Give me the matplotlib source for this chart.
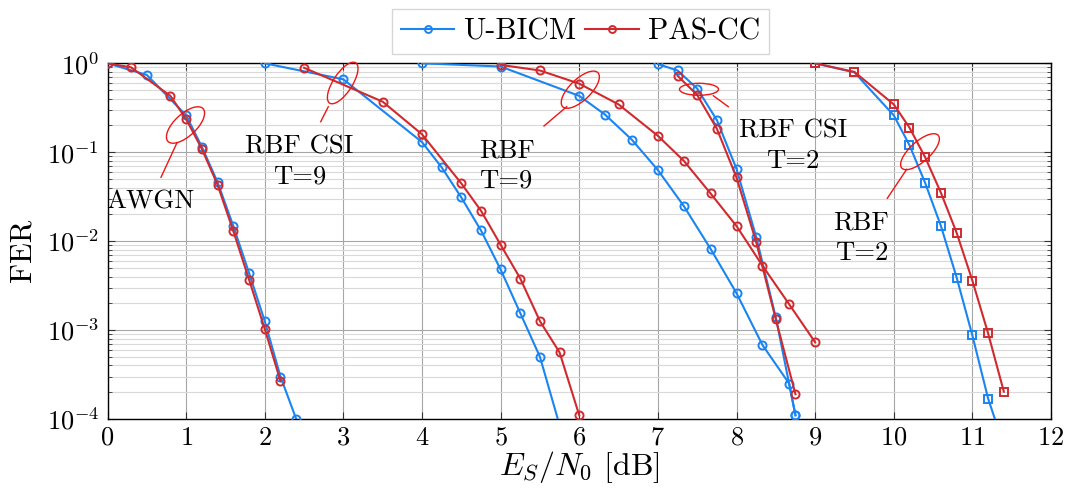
import matplotlib
matplotlib.use('Agg')
import matplotlib.pyplot as plt
from matplotlib.patches import Ellipse
from matplotlib.lines import Line2D
from matplotlib.transforms import IdentityTransform
from matplotlib.ticker import FixedLocator, FixedFormatter, LogLocator, NullFormatter

plt.rcParams['font.family'] = ['cmr10', 'DejaVu Serif']
plt.rcParams['mathtext.fontset'] = 'cm'
plt.rcParams['axes.formatter.use_mathtext'] = True

# ---------------- data ----------------
awgn_x_u = [0, 0.5, 1.0, 1.2, 1.4, 1.6, 1.8, 2.0, 2.2, 2.4]
awgn_fer_u = [1.0, 0.74, 0.26, 0.115, 0.046, 0.0148, 0.0044, 0.00126, 3.0e-4, 1.0e-4]
awgn_x_p = [0, 0.3, 0.8, 1.0, 1.2, 1.4, 1.6, 1.8, 2.0, 2.2]
awgn_fer_p = [1.0, 0.90, 0.43, 0.236, 0.109, 0.043, 0.013, 0.0037, 0.00103, 2.67e-4]

csi9_x_u = [2, 3, 4, 4.25, 4.5, 4.75, 5, 5.25, 5.5, 5.75]
csi9_fer_u = [1.0, 0.66, 0.13, 0.0676, 0.031, 0.0132, 0.0048, 0.00155, 5.0e-4, 8.5e-5]
csi9_x_p = [2.5, 3.5, 4, 4.5, 4.75, 5, 5.25, 5.5, 5.75, 6]
csi9_fer_p = [0.89, 0.37, 0.159, 0.0446, 0.022, 0.0091, 0.0038, 0.00126, 5.6e-4, 1.1e-4]

rbf9_x_u = [4, 5, 6, 6.33, 6.67, 7, 7.33, 7.67, 8, 8.33, 8.67, 8.75]
rbf9_fer_u = [1.0, 0.92, 0.43, 0.264, 0.138, 0.063, 0.0248, 0.0082, 0.0026, 6.8e-4, 2.5e-4, 1.1e-4]
rbf9_x_p = [5, 5.5, 6, 6.5, 7, 7.33, 7.67, 8, 8.33, 8.67, 9]
rbf9_fer_p = [0.96, 0.83, 0.59, 0.345, 0.153, 0.080, 0.0344, 0.0148, 0.0053, 0.00195, 7.3e-4]

csi2_x_u = [7, 7.25, 7.5, 7.75, 8, 8.25, 8.5, 8.75]
csi2_fer_u = [0.98, 0.83, 0.52, 0.23, 0.065, 0.0112, 0.00139, 1.1e-4]
csi2_x_p = [7.25, 7.5, 7.75, 8, 8.25, 8.5, 8.75]
csi2_fer_p = [0.725, 0.44, 0.184, 0.052, 0.0098, 0.00132, 1.9e-4]

rbf2_x_u = [9, 9.5, 10, 10.2, 10.4, 10.6, 10.8, 11, 11.2, 11.4]
rbf2_fer_u = [1.0, 0.79, 0.26, 0.12, 0.045, 0.0148, 0.0039, 8.7e-4, 1.7e-4, 5e-5]
rbf2_x_p = [9, 9.5, 10, 10.2, 10.4, 10.6, 10.8, 11, 11.2, 11.4]
rbf2_fer_p = [1.0, 0.80, 0.345, 0.189, 0.0875, 0.035, 0.0124, 0.0036, 9.2e-4, 2.03e-4]

xticks = [0, 1, 2, 3, 4, 5, 6, 7, 8, 9, 10, 11, 12]
yticks = [1e-4, 1e-3, 1e-2, 1e-1, 1e0]
yticklabels = [r'$10^{-4}$', r'$10^{-3}$', r'$10^{-2}$', r'$10^{-1}$', r'$10^{0}$']
legend_labels = ['U-BICM', 'PAS-CC']

# ---------------- style ----------------
W, H = 1073, 488
BLUE = '#1a84f2'
RED = '#d02a2e'
ANN = '#ee1515'

fig = plt.figure(figsize=(W / 100, H / 100), dpi=100)
ax = fig.add_axes([107.5 / W, 1 - 419 / H, (1051 - 107.5) / W, (419 - 63.3) / H])

line_kw = dict(lw=1.5, markersize=5.8, markerfacecolor='none', markeredgewidth=1.4)

groups = [
    (awgn_x_u, awgn_fer_u, awgn_x_p, awgn_fer_p, 'o'),
    (csi9_x_u, csi9_fer_u, csi9_x_p, csi9_fer_p, 'o'),
    (rbf9_x_u, rbf9_fer_u, rbf9_x_p, rbf9_fer_p, 'o'),
    (csi2_x_u, csi2_fer_u, csi2_x_p, csi2_fer_p, 'o'),
    (rbf2_x_u, rbf2_fer_u, rbf2_x_p, rbf2_fer_p, 's'),
]
handles = None
for xu, fu, xp, fp, m in groups:
    h1, = ax.plot(xu, fu, color=BLUE, marker=m, zorder=3, **line_kw)
    h2, = ax.plot(xp, fp, color=RED, marker=m, zorder=4, **line_kw)
    if handles is None:
        handles = [h1, h2]

ax.set_yscale('log')
ax.set_xlim(0, 12)
ax.set_ylim(1e-4, 1)
ax.xaxis.set_major_locator(FixedLocator(xticks))
ax.yaxis.set_major_locator(FixedLocator(yticks))
ax.yaxis.set_major_formatter(FixedFormatter(yticklabels))
ax.yaxis.set_minor_locator(LogLocator(base=10, subs=[2, 3, 4, 5, 6, 7, 8, 9]))
ax.yaxis.set_minor_formatter(NullFormatter())

ax.grid(True, which='major', color='#a6a6a6', lw=0.8)
ax.grid(True, which='minor', axis='y', color='#d9d9d9', lw=0.8)
ax.set_axisbelow(True)
ax.tick_params(axis='both', which='major', direction='in', length=5, width=0.8,
               labelsize=19, top=True, right=True, color='#333333')
ax.tick_params(axis='y', which='minor', direction='in', length=3, width=0.6,
               left=True, right=True, color='#333333')
ax.tick_params(axis='x', which='major', pad=5)
ax.tick_params(axis='y', which='major', pad=6)
for s in ax.spines.values():
    s.set_linewidth(1.0)
    s.set_color('black')

# axis labels
fig.text(22.5 / W, 1 - 250 / H, 'FER', rotation=90, ha='center', va='center', fontsize=22)
fig.text(579 / W, 1 - 475 / H, r'$E_S/N_0$ [dB]', ha='center', va='baseline', fontsize=23)

# legend
leg = fig.legend(handles, legend_labels, loc='center', bbox_to_anchor=(580.5 / W, 1 - 31.7 / H),
                 ncol=2, fontsize=21.5, frameon=True, fancybox=False, handlelength=1.8,
                 handletextpad=0.3, columnspacing=0.3, borderpad=0.3, borderaxespad=0)
leg.get_frame().set_edgecolor('#cccccc')
leg.get_frame().set_linewidth(1.0)
for lh in leg.legend_handles:
    lh.set_markersize(5)

# annotations (pixel layout)
def ell(cx, cy, w, h, ang):
    e = Ellipse((cx, H - cy), w, h, angle=ang, fill=False, edgecolor=ANN, lw=1.0,
                transform=IdentityTransform(), zorder=6)
    fig.add_artist(e)

def seg(x1, y1, x2, y2):
    fig.add_artist(Line2D([x1, x2], [H - y1, H - y2], color=ANN, lw=1.0,
                          transform=IdentityTransform(), zorder=6))

def lab(px, py, s):
    fig.text(px / W, 1 - py / H, s, ha='center', va='baseline', fontsize=19.2, zorder=7)

ell(185.5, 125, 48, 22, 43)
seg(177, 142.7, 161, 177.3)
lab(150.5, 208.3, 'AWGN')

ell(342.7, 83, 48, 19, 57)
seg(328.3, 106.7, 320.7, 121.7)
lab(299, 153.3, 'RBF CSI')
lab(300, 183.3, 'T=9')

ell(580.3, 89.7, 49, 21, 44)
seg(566.7, 106.7, 544, 126)
lab(507, 157.3, 'RBF')
lab(506, 187.3, 'T=9')

ell(699, 89.3, 39, 12, 0)
seg(713.3, 95.7, 728.3, 106.7)
lab(793, 137.3, 'RBF CSI')
lab(793, 168.3, 'T=2')

ell(920, 151.7, 49, 20, 42)
seg(906.7, 169.3, 887.3, 198.3)
lab(861.3, 230, 'RBF')
lab(862, 260, 'T=2')

fig.savefig('out.png', dpi=100)
